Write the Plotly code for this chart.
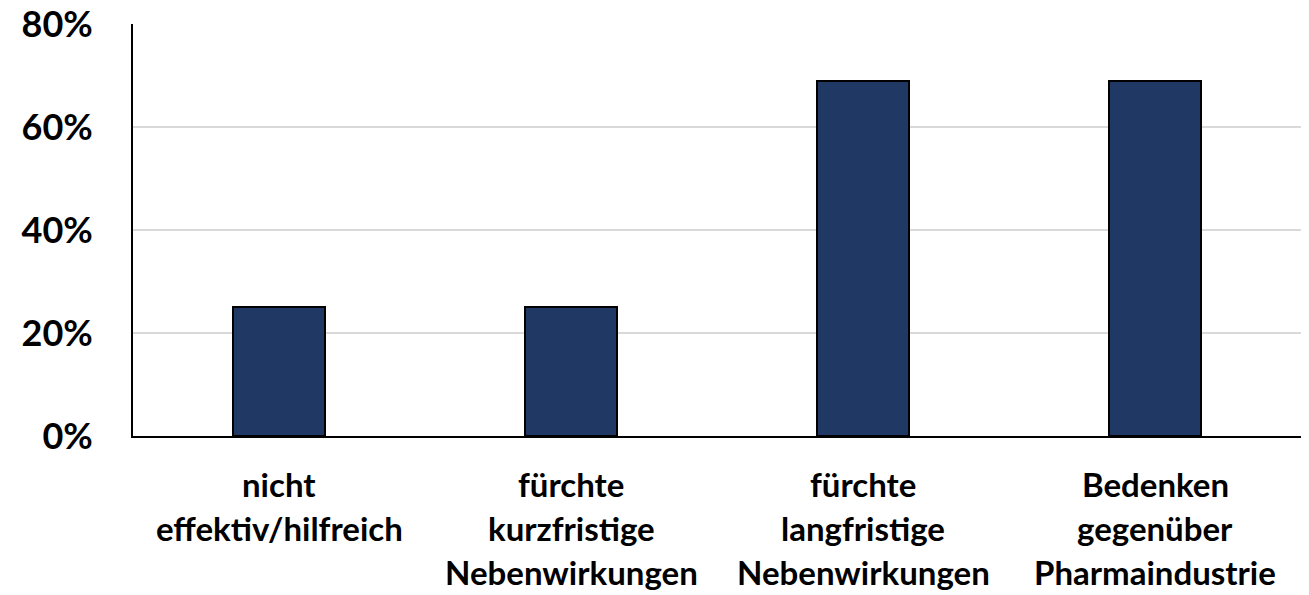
import plotly.graph_objects as go

categories = [
    ["nicht", "effektiv/hilfreich"],
    ["fürchte", "kurzfristige", "Nebenwirkungen"],
    ["fürchte", "langfristige", "Nebenwirkungen"],
    ["Bedenken", "gegenüber", "Pharmaindustrie"],
]
values = [25, 25, 69, 69]
y_ticks = [0, 20, 40, 60, 80]
y_tick_labels = ["0%", "20%", "40%", "60%", "80%"]

cat_keys = [" ".join(c) for c in categories]

fig = go.Figure()
fig.add_trace(go.Bar(
    x=cat_keys,
    y=values,
    width=0.315,
    marker=dict(color="#203864", line=dict(color="#000000", width=2)),
))

font_family = "Lato, 'Open Sans', sans-serif"
line_shifts = [-48, -92, -136]
for key, lines in zip(cat_keys, categories):
    for i, line in enumerate(lines):
        fig.add_annotation(
            x=key, xref="x", y=0, yref="paper",
            yshift=line_shifts[i], yanchor="middle",
            text="<b>" + line + "</b>", showarrow=False,
            font=dict(family=font_family, size=33, color="#000000"),
        )

fig.update_layout(
    width=1309, height=595,
    margin=dict(l=133, r=8, t=24, b=159, autoexpand=False),
    paper_bgcolor="white", plot_bgcolor="white",
    showlegend=False,
    font=dict(family=font_family, color="#000000"),
    bargap=0,
)
fig.update_xaxes(
    showticklabels=False, showgrid=False,
    showline=True, linecolor="#000000", linewidth=2,
    ticks="", zeroline=False, automargin=False,
)
fig.update_yaxes(
    range=[0, 80], tickvals=y_ticks, ticktext=["<b>" + t + "</b>" for t in y_tick_labels],
    tickfont=dict(family=font_family, size=36, color="#000000"),
    showgrid=True, gridcolor="#d9d9d9", gridwidth=1.5,
    showline=True, linecolor="#000000", linewidth=2,
    zeroline=False, ticks="", ticklabelstandoff=31, automargin=False,
    ticklabeloverflow="allow",
)

fig.write_html(
    "out.html",
    config={"displayModeBar": False},
    post_script="document.body.style.margin='0';document.body.style.overflow='hidden';",
)
